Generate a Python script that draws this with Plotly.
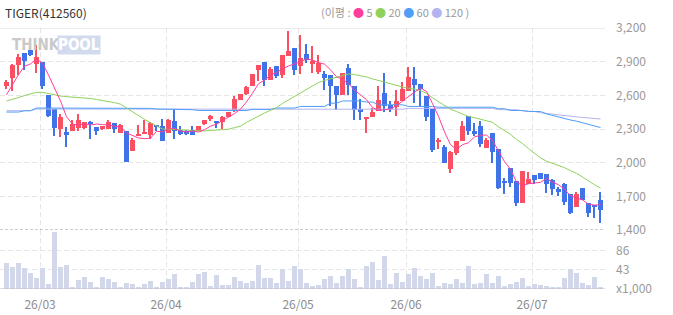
import pandas as pd
import plotly.graph_objects as go
from plotly.subplots import make_subplots

# ---------------- data ----------------
opens = [2686, 2754, 2874, 2981, 3001, 2879, 2894, 2606, 2478, 2299,
         2272, 2284, 2308, 2308, 2359, 2314, 2299, 2299, 2353, 2263,
         2284, 2100, 2246, 2263, 2249, 2338, 2329, 2263, 2374, 2293,
         2278, 2293, 2278, 2347, 2388, 2374, 2362, 2403, 2457, 2561,
         2612, 2680, 2829, 2894, 2740, 2859, 2784, 2954, 3022, 2859,
         2969, 2879, 2805, 2790, 2784, 2686, 2600, 2844, 2686, 2481,
         2388, 2403, 2457, 2620, 2516, 2495, 2552, 2635, 2749, 2704,
         2597, 2478, 2186, 2144, 1945, 2085, 2195, 2412, 2284, 2329,
         2135, 2263, 2123, 1838, 1954, 1841, 1638, 1808, 1894, 1906,
         1900, 1847, 1763, 1811, 1722, 1608, 1772, 1638, 1623, 1668]
highs = [2740, 2879, 2969, 2981, 3028, 3052, 2894, 2606, 2478, 2433,
         2314, 2376, 2433, 2362, 2368, 2314, 2329, 2382, 2353, 2344,
         2284, 2220, 2338, 2382, 2359, 2338, 2388, 2388, 2478, 2323,
         2293, 2329, 2329, 2382, 2421, 2374, 2412, 2451, 2591, 2612,
         2686, 2790, 2874, 2894, 2850, 2859, 2963, 3171, 3022, 3141,
         3061, 3043, 2963, 2814, 2784, 2686, 2799, 2879, 2686, 2570,
         2406, 2487, 2686, 2799, 2546, 2644, 2719, 2853, 2850, 2704,
         2597, 2478, 2219, 2159, 2100, 2189, 2368, 2412, 2352, 2368,
         2219, 2263, 2123, 1861, 1954, 1841, 1930, 1915, 1894, 1906,
         1900, 1852, 1781, 1817, 1722, 1736, 1772, 1638, 1623, 1736]
lows = [2660, 2640, 2784, 2829, 2948, 2799, 2656, 2406, 2234, 2225,
        2138, 2284, 2284, 2302, 2210, 2249, 2293, 2299, 2263, 2263,
        2010, 2100, 2234, 2263, 2213, 2284, 2189, 2263, 2210, 2249,
        2249, 2243, 2278, 2338, 2368, 2308, 2299, 2403, 2451, 2561,
        2606, 2680, 2731, 2686, 2740, 2754, 2754, 2954, 2784, 2790,
        2888, 2799, 2790, 2650, 2501, 2466, 2600, 2600, 2382, 2382,
        2263, 2403, 2457, 2451, 2451, 2412, 2552, 2635, 2531, 2501,
        2368, 2091, 2121, 2001, 1906, 2070, 2195, 2249, 2234, 2138,
        2129, 2001, 1766, 1719, 1781, 1617, 1638, 1808, 1811, 1855,
        1727, 1713, 1707, 1623, 1543, 1608, 1668, 1513, 1510, 1466]
closes = [2719, 2874, 2942, 2909, 2957, 2945, 2680, 2412, 2308, 2406,
          2243, 2344, 2382, 2362, 2347, 2284, 2323, 2362, 2299, 2332,
          2010, 2204, 2254, 2272, 2350, 2314, 2189, 2382, 2278, 2254,
          2260, 2243, 2329, 2382, 2412, 2350, 2403, 2451, 2570, 2612,
          2671, 2790, 2874, 2734, 2838, 2775, 2963, 2999, 2823, 2933,
          2912, 2903, 2888, 2754, 2680, 2600, 2799, 2689, 2466, 2448,
          2406, 2448, 2561, 2501, 2478, 2552, 2656, 2760, 2695, 2659,
          2403, 2115, 2192, 2001, 2094, 2189, 2329, 2278, 2257, 2165,
          2204, 2091, 1772, 1817, 1823, 1638, 1930, 1852, 1850, 1855,
          1811, 1763, 1742, 1653, 1555, 1722, 1668, 1555, 1608, 1579]
volumes = [58, 49, 58, 47, 36, 25, 47, 12, 127, 49,
           53, 5, 20, 27, 16, 5, 27, 22, 16, 5,
           13, 11, 5, 11, 18, 5, 16, 22, 33, 3,
           4, 16, 33, 38, 7, 31, 9, 9, 27, 18,
           13, 18, 55, 25, 25, 13, 45, 18, 51, 45,
           13, 7, 9, 22, 29, 13, 29, 44, 22, 5,
           51, 60, 20, 73, 11, 35, 16, 33, 47, 29,
           22, 35, 7, 13, 11, 22, 13, 51, 11, 13,
           33, 13, 29, 7, 11, 16, 24, 7, 11, 9,
           7, 3, 3, 24, 44, 35, 13, 9, 27, 3]

ma5_head = [2606, 2695, 2784, 2859]
ma20_head = [2550, 2562, 2580, 2598, 2615, 2627, 2627, 2615, 2603, 2594,
             2588, 2584, 2582, 2578, 2572, 2563, 2555, 2545, 2535]
ma60 = [2451, 2451, 2451, 2463, 2463] + [2487] * 12 + [2484] * 8 + [2478] * 5 \
       + [2472] * 2 + [2465] * 9 + [2475] * 4 + [2487] * 4 + [2501] * 5 \
       + [2530] * 2 + [2550] * 4 + [2540] * 2 + [2516] * 5 + [2501] * 5 \
       + [2494] * 10 + [2481] * 2 + [2465] * 3 + [2456] * 3 \
       + [2435, 2420, 2405, 2392, 2380, 2370, 2355, 2340, 2325, 2313]
ma120 = [2463] * 5 + [2478] * 27 + [2476] * 35 + [2484] * 15 + [2472] * 4 \
        + [2462, 2462, 2456, 2445, 2438, 2432, 2427, 2420, 2414, 2408,
           2403, 2398, 2393, 2389]

month_labels = ["26/03", "26/04", "26/05", "26/06", "26/07"]
month_start_idx = [6, 27, 49, 67, 88]
price_ticks = [1400, 1700, 2000, 2300, 2600, 2900, 3200]
vol_ticks = [0, 43, 86]
vol_tick_text = ["x1,000", "43", "86"]

# ---------------- styling ----------------
UP = "#fa5062"
DOWN = "#4173e8"
C5, C20, C60, C120 = "#ff3d9a", "#8fd25a", "#4f9ef7", "#b2b4f0"
VOLC = "#d3d7ea"
FONT = "Noto Sans CJK KR"

n = len(closes)
idx = list(range(n))
cs = pd.Series(closes, dtype=float)
ma5 = cs.rolling(5).mean().tolist()
ma5[:len(ma5_head)] = ma5_head
ma20 = cs.rolling(20).mean().tolist()
ma20[:len(ma20_head)] = ma20_head

colors = [UP if c >= o else DOWN for o, c in zip(opens, closes)]
body_base = [min(o, c) for o, c in zip(opens, closes)]
body_h = [max(abs(c - o), 8) for o, c in zip(opens, closes)]
wick_h = [h - l for h, l in zip(highs, lows)]

fig = make_subplots(rows=2, cols=1, shared_xaxes=True, vertical_spacing=0,
                    row_heights=[0.774, 0.226])

fig.add_trace(go.Bar(x=idx, base=lows, y=wick_h, width=0.17,
                     marker=dict(color=colors, line=dict(width=0)),
                     hoverinfo="skip"), row=1, col=1)
fig.add_trace(go.Bar(x=idx, base=body_base, y=body_h, width=0.83,
                     marker=dict(color=colors, line=dict(width=0)),
                     hoverinfo="skip"), row=1, col=1)
for vals, col in [(ma120, C120), (ma60, C60), (ma20, C20), (ma5, C5)]:
    fig.add_trace(go.Scatter(x=idx, y=vals, mode="lines",
                             line=dict(color=col, width=1), hoverinfo="skip"),
                  row=1, col=1)
fig.add_trace(go.Bar(x=idx, y=volumes, width=0.83,
                     marker=dict(color=VOLC, line=dict(width=0)),
                     hoverinfo="skip"), row=2, col=1)

tickpos = [i - 0.4 for i in month_start_idx]
xcommon = dict(range=[-1.083, 99.75], tickvals=tickpos, ticktext=month_labels,
               showgrid=True, gridcolor="#e6e6e6", griddash="5px,3px",
               gridwidth=1, zeroline=False, showline=False, ticks="",
               tickfont=dict(color="#8c8c8c", size=12, family=FONT))
fig.update_xaxes(**xcommon)
fig.update_xaxes(showticklabels=False, row=1, col=1)
fig.update_xaxes(showticklabels=True, ticklabelstandoff=7, row=2, col=1)

fig.update_yaxes(range=[1400, 3200], domain=[0.226, 1], side="right",
                 tickvals=price_ticks,
                 ticktext=[f"{v:,}" for v in price_ticks],
                 showgrid=True, gridcolor="#e6e6e6", griddash="5px,3px",
                 zeroline=False, showline=False, ticks="",
                 ticklabelstandoff=10,
                 tickfont=dict(color="#999999", size=12, family=FONT),
                 row=1, col=1)
fig.update_yaxes(range=[0, 132.5], domain=[0, 0.226], side="right",
                 tickvals=vol_ticks, ticktext=vol_tick_text,
                 showgrid=True, gridcolor="#e6e6e6", griddash="5px,3px",
                 zeroline=False, showline=False, ticks="",
                 ticklabelstandoff=10,
                 tickfont=dict(color="#999999", size=12, family=FONT),
                 row=2, col=1)

shapes = [
    dict(type="line", xref="paper", yref="y", x0=0, x1=1, y0=3200, y1=3200,
         line=dict(color="#d8d8d8", width=1)),
    dict(type="line", xref="paper", yref="y", x0=0, x1=1, y0=1400, y1=1400,
         line=dict(color="#9a9a9a", width=1, dash="3px,2px")),
    dict(type="line", xref="paper", yref="y2", x0=0, x1=1, y0=0, y1=0,
         line=dict(color="#bdbdbd", width=1)),
]

PW = 605.0
annotations = [
    dict(text="TIGER(412560)", xref="paper", yref="paper", x=3 / PW, y=1.061,
         xanchor="left", yanchor="middle", showarrow=False,
         font=dict(color="#333333", size=12, family=FONT)),
    dict(text=(f'(이평 : <span style="color:{C5}">●</span> 5 '
               f'<span style="color:{C20}">●</span> 20 '
               f'<span style="color:{C60}">●</span> 60 '
               f'<span style="color:{C120}">●</span> 120 )'),
         xref="paper", yref="paper", x=471 / PW, y=1.061,
         xanchor="right", yanchor="middle", showarrow=False,
         font=dict(color="#999999", size=11, family=FONT)),
    dict(text="<b>THINK</b>", xref="paper", yref="paper", x=10 / PW, y=0.935,
         xanchor="left", yanchor="middle", showarrow=False,
         font=dict(color="#c9c9c9", size=15, family="Liberation Sans Narrow, Arial Narrow, DejaVu Sans Condensed")),
    dict(text="<b>POOL</b>", xref="paper", yref="paper", x=57 / PW, y=0.935,
         xanchor="left", yanchor="middle", showarrow=False, bgcolor="#d2dbee",
         borderpad=0,
         font=dict(color="#ffffff", size=15, family="Liberation Sans Narrow, Arial Narrow, DejaVu Sans Condensed")),
]

fig.update_layout(width=673, height=315, margin=dict(l=0, r=68, t=28, b=26),
                  paper_bgcolor="white", plot_bgcolor="white",
                  barmode="overlay", bargap=0, showlegend=False,
                  shapes=shapes, annotations=annotations,
                  font=dict(family=FONT), hovermode=False)

fig.write_html("out.html", config={"displayModeBar": False})
